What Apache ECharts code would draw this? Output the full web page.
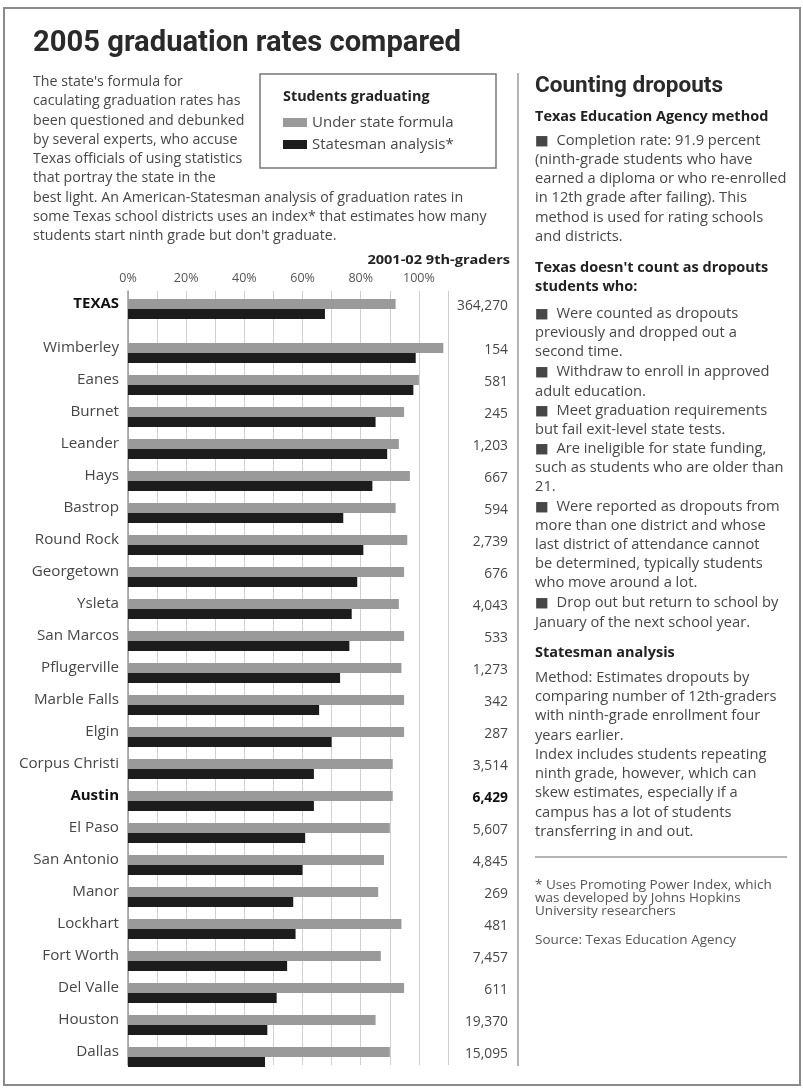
<!DOCTYPE html>
<html><head><meta charset="utf-8">
<script src="https://cdn.jsdelivr.net/npm/echarts@6/dist/echarts.min.js"></script>
<style>html,body{margin:0;padding:0;background:#fff}#c{width:803px;height:1088px}</style>
</head><body><div id="c"></div>
<script>
// ---------- data ----------
const districts = ['TEXAS','Wimberley','Eanes','Burnet','Leander','Hays','Bastrop','Round Rock','Georgetown','Ysleta','San Marcos','Pflugerville','Marble Falls','Elgin','Corpus Christi','Austin','El Paso','San Antonio','Manor','Lockhart','Fort Worth','Del Valle','Houston','Dallas'];
const stateFormula = [92.0,108.4,100.0,94.9,93.1,96.9,92.0,96.0,94.9,93.1,94.9,94.0,94.9,94.9,91.0,91.0,90.0,88.0,86.0,94.0,86.9,94.9,85.1,90.0];
const statesmanAnalysis = [67.7,98.9,98.1,85.1,89.1,84.0,74.0,80.9,78.8,76.9,76.1,72.9,65.7,70.0,63.9,63.9,60.9,60.0,56.8,57.6,54.7,51.1,47.9,47.1];
const ninthGraders = ['364,270','154','581','245','1,203','667','594','2,739','676','4,043','533','1,273','342','287','3,514','6,429','5,607','4,845','269','481','7,457','611','19,370','15,095'];
const axisTickLabels = [0,20,40,60,80,100];
const seriesNames = ['Under state formula','Statesman analysis*'];
const boldNames = ['TEXAS','Austin'];
const boldNumbersFor = ['Austin'];

// ---------- text ----------
const titleText = '2005 graduation rates compared';
const introLines = ["The state's formula for","caculating graduation rates has","been questioned and debunked","by several experts, who accuse","Texas officials of using statistics","that portray the state in the","best light. An American-Statesman analysis of graduation rates in","some Texas school districts uses an index* that estimates how many","students start ninth grade but don't graduate."];
const rightLines = [
  ['h1','Counting dropouts',86],
  ['h2','Texas Education Agency method',117],
  ['b','■  Completion rate: 91.9 percent',141],
  ['t','(ninth-grade students who have',160],
  ['t','earned a diploma or who re-enrolled',179],
  ['t','in 12th grade after failing). This',198],
  ['t','method is used for rating schools',218],
  ['t','and districts.',237],
  ['h2',"Texas doesn't count as dropouts",268],
  ['h2','students who:',287],
  ['b','■  Were counted as dropouts',314],
  ['t','previously and dropped out a',333],
  ['t','second time.',352],
  ['b','■  Withdraw to enroll in approved',372],
  ['t','adult education.',392],
  ['b','■  Meet graduation requirements',411],
  ['t','but fail exit-level state tests.',430],
  ['b','■  Are ineligible for state funding,',449],
  ['t','such as students who are older than',468],
  ['t','21.',487],
  ['b','■  Were reported as dropouts from',507],
  ['t','more than one district and whose',526],
  ['t','last district of attendance cannot',545],
  ['t','be determined, typically students',564],
  ['t','who move around a lot.',583],
  ['b','■  Drop out but return to school by',603],
  ['t','January of the next school year.',623],
  ['h2','Statesman analysis',653],
  ['t','Method: Estimates dropouts by',678],
  ['t','comparing number of 12th-graders',697],
  ['t','with ninth-grade enrollment four',716],
  ['t','years earlier.',736],
  ['t','Index includes students repeating',755],
  ['t','ninth grade, however, which can',774],
  ['t','skew estimates, especially if a',793],
  ['t','campus has a lot of students',813],
  ['t','transferring in and out.',832],
  ['s','* Uses Promoting Power Index, which',885],
  ['s','was developed by Johns Hopkins',898],
  ['s','University researchers',911],
  ['s','Source: Texas Education Agency',940]
];

// ---------- styles ----------
const BODY = "'Open Sans', 'Noto Sans', 'DejaVu Sans', sans-serif";
const HEAD = "Roboto, 'Noto Sans', sans-serif";
const GRAY = '#9a9a9a', BLACK = '#1c1c1c', TXT = '#474747', DARK = '#222';

const chart = echarts.init(document.getElementById('c'), null, {renderer:'canvas'});

const measureCtx = document.createElement('canvas').getContext('2d');
function fit(text, font, target) { measureCtx.font = font; return target / measureCtx.measureText(text).width; }

function t(x, y, text, font, fill, align, sx) {
  return {type:'text', x:x, y:y, scaleX: sx || 1, silent:true,
    style:{text:text, font:font, fill:fill, textAlign:align||'left', textVerticalAlign:'middle', align:align||'left', verticalAlign:'middle'}};
}
const graphics = [];
graphics.push({type:'rect', shape:{x:4, y:8, width:796, height:1077}, style:{fill:null, stroke:'#8a8a8a', lineWidth:2}, silent:true});
graphics.push({type:'line', shape:{x1:518, y1:73, x2:518, y2:1066}, style:{stroke:'#9a9a9a', lineWidth:1.5}, silent:true});
graphics.push({type:'line', shape:{x1:535, y1:857, x2:787, y2:857}, style:{stroke:'#666', lineWidth:1}, silent:true});
graphics.push({type:'rect', shape:{x:260, y:74, width:236, height:94}, style:{fill:null, stroke:'#777', lineWidth:1.5}, silent:true});
const titleFont = 'bold 30px ' + HEAD;
graphics.push(t(33, 43, titleText, titleFont, '#2a2a2a', 'left', fit(titleText, titleFont, 428)));
introLines.forEach((l,i)=>graphics.push(t(33, 82 + i*19.3, l, '13.8px ' + BODY, TXT, 'left', 1.03)));
graphics.push(t(283, 97, 'Students graduating', 'bold 13.5px ' + BODY, DARK, 'left', 1.065));
graphics.push(t(510, 260, '2001-02 9th-graders', 'bold 13px ' + BODY, DARK, 'right', 1.12));
rightLines.forEach(([k, s, y])=>{
  let font = '13.6px ' + BODY, fill = TXT, sx = 1.08;
  if (k==='h1') { font = 'bold 22px ' + HEAD; fill = '#2a2a2a'; sx = fit(s, font, 188); }
  else if (k==='h2') { font = 'bold 13.6px ' + BODY; fill = DARK; sx = 1.065; }
  else if (k==='s') { font = '12.4px ' + BODY; fill = '#555'; sx = 1.09; }
  graphics.push(t(535, y, s, font, fill, 'left', sx));
});

const nameLabel = {
  margin: 9, fontFamily: BODY, fontSize: 15.2, color: TXT, padding:[0,0,10,0],
  formatter: v => boldNames.includes(v) ? '{b|' + v + '}' : v,
  rich: {b:{fontFamily: BODY, fontSize: 15, fontWeight:'bold', color:'#111'}}
};
const numLabel = (offset) => ({
  margin: 60, align:'right', fontFamily: BODY, fontSize: 13.8, color: TXT, padding:[0,0,6,0],
  formatter: (v, i) => boldNumbersFor.includes(districts[i + offset]) ? '{b|' + v + '}' : v,
  rich: {b:{fontFamily: BODY, fontSize: 13.8, fontWeight:'bold', color:'#111'}}
});
const hiddenCat = {axisLine:{show:false}, axisTick:{show:false}, splitLine:{show:false}};

const option = {
  backgroundColor:'#fff',
  animation:false,
  color:[GRAY, BLACK],
  graphic: graphics,
  legend: {
    data: seriesNames, orient:'vertical', left: 283, top: 115, padding: 0,
    itemWidth: 24, itemHeight: 9, itemGap: 7, icon:'rect',
    textStyle:{fontFamily: BODY, fontSize: 15, color: TXT}, selectedMode:false
  },
  grid: [
    {left:128, top:291, width:320, height:774},
    {left:128, top:293, width:320, height:32},
    {left:128, top:337, width:320, height:736}
  ],
  xAxis: [
    {gridIndex:0, type:'value', min:0, max:110, interval:10, position:'top',
      axisLine:{show:false}, axisTick:{show:false},
      axisLabel:{margin:6, fontFamily: BODY, fontSize:12.5, color:'#555',
        formatter: v => axisTickLabels.includes(v) ? v + '%' : ''},
      splitLine:{show:true, lineStyle:{color:'#cfcfcf', width:1}}},
    {gridIndex:1, type:'value', min:0, max:110, interval:10, show:false},
    {gridIndex:2, type:'value', min:0, max:110, interval:10, show:false}
  ],
  yAxis: [
    {gridIndex:0, type:'value', min:0, max:1, position:'right',
      axisLine:{show:true, lineStyle:{color:'#9a9a9a', width:1.5}},
      axisTick:{show:false}, axisLabel:{show:false}, splitLine:{show:false}},
    Object.assign({gridIndex:1, type:'category', inverse:true, data: districts.slice(0,1), axisLabel: nameLabel}, hiddenCat),
    Object.assign({gridIndex:1, type:'category', inverse:true, position:'right', data: ninthGraders.slice(0,1), axisLabel: numLabel(0)}, hiddenCat),
    Object.assign({gridIndex:2, type:'category', inverse:true, data: districts.slice(1), axisLabel: nameLabel}, hiddenCat),
    Object.assign({gridIndex:2, type:'category', inverse:true, position:'right', data: ninthGraders.slice(1), axisLabel: numLabel(1)}, hiddenCat)
  ],
  series: [
    {name: seriesNames[0], type:'bar', xAxisIndex:1, yAxisIndex:1, data: stateFormula.slice(0,1), barWidth:10, barGap:'0%', itemStyle:{color:GRAY}},
    {name: seriesNames[1], type:'bar', xAxisIndex:1, yAxisIndex:1, data: statesmanAnalysis.slice(0,1), barWidth:10, barGap:'0%', itemStyle:{color:BLACK}},
    {name: seriesNames[0], type:'bar', xAxisIndex:2, yAxisIndex:3, data: stateFormula.slice(1), barWidth:10, barGap:'0%', itemStyle:{color:GRAY}},
    {name: seriesNames[1], type:'bar', xAxisIndex:2, yAxisIndex:3, data: statesmanAnalysis.slice(1), barWidth:10, barGap:'0%', itemStyle:{color:BLACK}}
  ]
};
chart.setOption(option);
</script></body></html>
